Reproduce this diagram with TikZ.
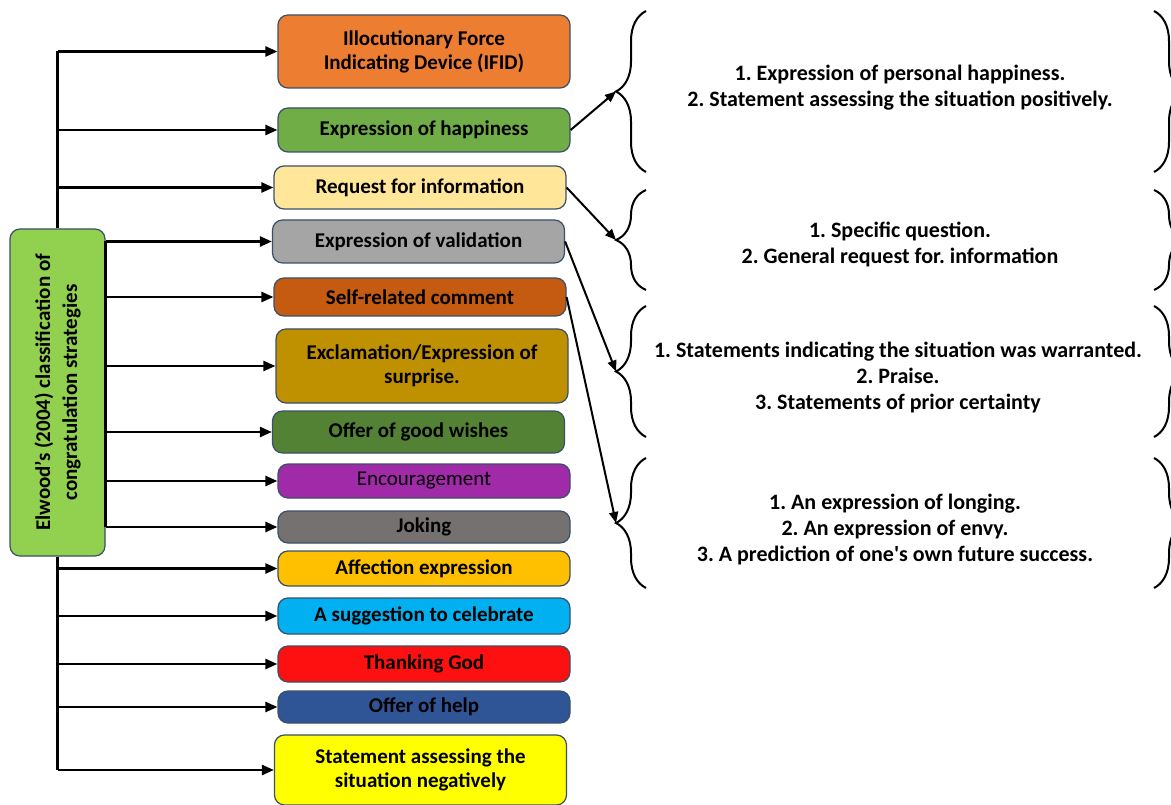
\documentclass[tikz,border=0pt]{standalone}
\usepackage{fontspec}
\setmainfont{Carlito}[Ligatures=TeXOff]
\usetikzlibrary{arrows.meta,decorations.pathreplacing}
\definecolor{cEdge}{HTML}{3A5068}
\definecolor{cRoot}{HTML}{92D050}
\definecolor{cIfid}{HTML}{ED7D31}
\definecolor{cHappy}{HTML}{70AD47}
\definecolor{cRequest}{HTML}{FFE699}
\definecolor{cValid}{HTML}{A5A5A5}
\definecolor{cSelf}{HTML}{C55A11}
\definecolor{cExcl}{HTML}{BF9000}
\definecolor{cWishes}{HTML}{548235}
\definecolor{cEncour}{HTML}{A12AA9}
\definecolor{cJoking}{HTML}{767171}
\definecolor{cAffect}{HTML}{FFC000}
\definecolor{cSuggest}{HTML}{00B0F0}
\definecolor{cThank}{HTML}{FF1010}
\definecolor{cHelp}{HTML}{2F5597}
\definecolor{cNeg}{HTML}{FFFF00}
\frenchspacing
\tikzset{
	box/.style={draw=cEdge, line width=1.2pt, rounded corners=10pt, minimum width=292pt,
		align=center, inner sep=2pt, font=\fontsize{21}{24}\selectfont\bfseries},
	trunk/.style={line width=3pt},
	arr/.style={line width=2.5pt, -{Triangle[length=12pt,width=10pt]}},
	link/.style={line width=2pt, -{Triangle[length=11pt,width=9pt]}},
	brace/.style={line width=2pt, decorate, decoration={brace, amplitude=30pt}},
	list/.style={align=center, font=\fontsize{22}{26}\selectfont\bfseries}
}
\begin{document}
\begin{tikzpicture}[x=1pt, y=-1pt]
	\useasboundingbox (0,0) rectangle (1171,805);
	% root box
	\node[box, fill=cRoot, rotate=90, minimum width=327pt, minimum height=95pt,
		font=\fontsize{21}{27}\selectfont\bfseries] (root) at (57.5,392.5)
		{Elwood’s (2004) classification of\\congratulation strategies};
	% strategies
	\node[box, fill=cIfid, minimum height=73pt] (ifid) at (424,51.5) {Illocutionary Force\\Indicating Device (IFID)};
	\node[box, fill=cHappy, minimum height=44pt] (happy) at (424,130) {Expression of happiness};
	\node[box, fill=cRequest, minimum height=43pt] (request) at (420,187.5) {Request for information};
	\node[box, fill=cValid, minimum height=43pt] (valid) at (418.5,241.5) {Expression of validation};
	\node[box, fill=cSelf, minimum height=38pt] (self) at (420,297) {Self-related comment};
	\node[box, fill=cExcl, minimum height=74pt] (excl) at (422,366) {Exclamation/Expression of\\surprise.};
	\node[box, fill=cWishes, minimum height=42pt] (wishes) at (418.5,432) {Offer of good wishes};
	\node[box, fill=cEncour, minimum height=34pt, font=\fontsize{21}{24}\selectfont] (encour) at (424,481) {Encouragement};
	\node[box, fill=cJoking, minimum height=32pt] (joking) at (424,527) {Joking};
	\node[box, fill=cAffect, minimum height=35pt] (affect) at (424,568.5) {Affection expression};
	\node[box, fill=cSuggest, minimum height=36pt] (suggest) at (424,616) {A suggestion to celebrate};
	\node[box, fill=cThank, minimum height=36pt] (thank) at (424,664) {Thanking God};
	\node[box, fill=cHelp, minimum height=32pt] (help) at (424,707) {Offer of help};
	\node[box, fill=cNeg, minimum height=70pt] (neg) at (420.5,770) {Statement assessing the\\situation negatively};
	% trunks
	\draw[trunk] (root.east) -- (root.east |- ifid.west);
	\draw[trunk] (root.west) -- (root.west |- neg.west);
	\draw[trunk] (root.south |- valid.west) -- (root.south |- joking.west);
	\foreach \n in {ifid,happy,request,affect,suggest,thank,help,neg}
		\draw[arr] (root.east |- \n.west) -- (\n.west);
	\foreach \n in {valid,self,excl,wishes,encour,joking}
		\draw[arr] (root.south |- \n.west) -- (\n.west);
	% braces
	\foreach \t/\b/\i in {11/172/1, 190/290/2, 306/437/3, 458/588/4}
	{
		\draw[brace] (646,\b) -- (646,\t);
		\draw[brace] (1154,\t) -- (1154,\b);
		\coordinate (tip\i) at (616,{(\t+\b)/2});
	};
	\node[list] (sub1) at (900,88) {1. Expression of personal happiness.\\2. Statement assessing the situation positively.};
	\node[list] (sub2) at (900,244.5) {1. Specific question.\\2. General request for. information};
	\node[list] (sub3) at (898,377.5) {1. Statements indicating the situation was warranted.\\2. Praise.\\3. Statements of prior certainty};
	\node[list] (sub4) at (895,529.5) {1. An expression of longing.\\2. An expression of envy.\\3. A prediction of one's own future success.};
	% links to sub-strategies
	\draw[link] (happy.east) -- (tip1);
	\draw[link] (request.east) -- (tip2);
	\draw[link] (valid.east) -- (tip3);
	\draw[link] (self.east) -- (tip4);
\end{tikzpicture}
\end{document}
